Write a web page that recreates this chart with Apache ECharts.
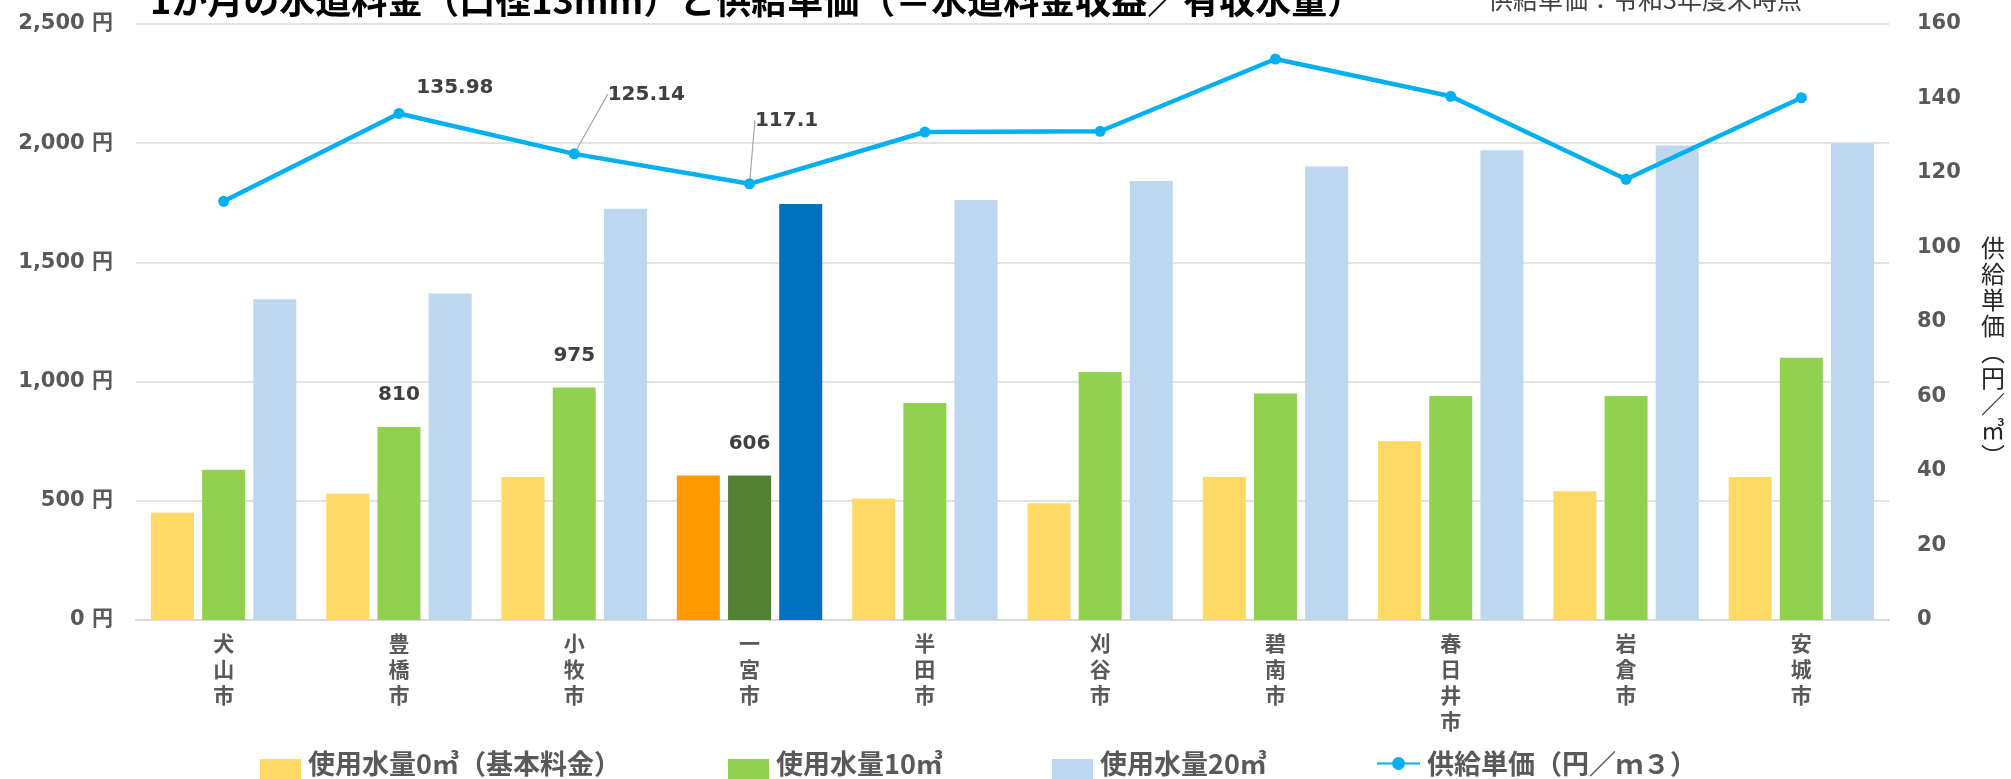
<!DOCTYPE html>
<html>
<head>
<meta charset="utf-8">
<script src="https://cdn.jsdelivr.net/npm/echarts@6/dist/echarts.min.js"></script>
<style>
html, body { margin: 0; padding: 0; background: #fff; }
#chart { width: 2011px; height: 779px; }
</style>
</head>
<body>
<div id="chart"></div>
<script>
// 市名
var cities = ['犬山市', '豊橋市', '小牧市', '一宮市', '半田市', '刈谷市', '碧南市', '春日井市', '岩倉市', '安城市'];
// 1か月の水道料金（円）
var fee0 = [450, 530, 600, 606, 510, 490, 600, 750, 540, 600];
var fee10 = [630, 810, 975, 606, 910, 1040, 950, 940, 940, 1100];
var fee20 = [1345, 1370, 1725, 1745, 1762, 1841, 1902, 1970, 1990, 2000];
// 供給単価（円／㎥）
var unitPrice = [112.4, 135.98, 125.14, 117.1, 131.0, 131.2, 150.6, 140.6, 118.3, 140.2];

var seriesNames = ['使用水量0㎥（基本料金）', '使用水量10㎥', '使用水量20㎥', '供給単価（円／ｍ３）'];
var feeLabelIdx = [1, 2, 3];
var priceLabelIdx = [1, 2, 3];
var mainCity = 3; // 一宮市

var numFont = '"DejaVu Sans", "Noto Sans CJK JP", sans-serif';
var jpFont = '"Noto Sans CJK JP", sans-serif';
var axisGray = '#595959';

function barData(values, color, labelIdx) {
    return values.map(function (v, i) {
        var item = { value: v };
        if (i === mainCity) {
            item.itemStyle = { color: color };
        }
        if (labelIdx && labelIdx.indexOf(i) >= 0) {
            item.label = { show: true };
        }
        return item;
    });
}

var priceShift = { 1: [56, -5], 2: [72, -39], 3: [37, -43] };

var chart = echarts.init(document.getElementById('chart'));

// 凡例の四角は下寄せ（下端が切れる）
var boxIcon = 'path://M0,0L41,0L41,0Z M0,15L41,15L41,40L0,40Z';

var legendBase = {
    orient: 'horizontal',
    top: 744,
    padding: 0,
    itemGap: 0,
    itemWidth: 41,
    itemHeight: 40,
    icon: boxIcon,
    textStyle: {
        fontFamily: jpFont,
        fontSize: 27,
        fontWeight: 'bold',
        color: axisGray,
        padding: [0, 0, 0, 2]
    }
};

chart.setOption({
    animation: false,
    title: [
        {
            text: '1か月の水道料金（口径13mm）と供給単価（＝水道料金収益／有収水量）',
            left: 150,
            top: -18,
            padding: 0,
            textStyle: { fontFamily: jpFont, fontSize: 36, fontWeight: 'bold', color: '#000' }
        },
        {
            text: '供給単価：令和3年度末時点',
            left: 1488,
            top: -13,
            padding: 0,
            textStyle: { fontFamily: jpFont, fontSize: 25, fontWeight: 'normal', color: '#404040' }
        }
    ],
    legend: [
        Object.assign({}, legendBase, { left: 260, data: [seriesNames[0]] }),
        Object.assign({}, legendBase, { left: 728, data: [seriesNames[1]] }),
        Object.assign({}, legendBase, { left: 1052, data: [seriesNames[2]] }),
        Object.assign({}, legendBase, { left: 1376, top: 750, icon: null, itemWidth: 43, itemHeight: 16, data: [seriesNames[3]] })
    ],
    graphic: [
        {
            type: 'text',
            left: 1981,
            top: 235,
            style: {
                text: '供\n給\n単\n価\n︵\n円\n／\n㎥\n︶',
                font: '24px "Noto Sans CJK JP", sans-serif',
                lineHeight: 26,
                fill: '#262626'
            }
        }
    ],
    grid: { left: 136, right: 122, top: 24, bottom: 159 },
    xAxis: {
        type: 'category',
        data: cities,
        axisTick: { show: false },
        axisLine: { lineStyle: { color: '#d9d9d9', width: 2 } },
        axisLabel: {
            interval: 0,
            margin: 10,
            fontFamily: jpFont,
            fontSize: 21,
            fontWeight: 'bold',
            lineHeight: 26,
            color: axisGray,
            formatter: function (v) { return v.split('').join('\n'); }
        }
    },
    yAxis: [
        {
            type: 'value',
            min: 0,
            max: 2500,
            interval: 500,
            axisLine: { show: false },
            axisTick: { show: false },
            splitLine: { lineStyle: { color: '#d9d9d9', width: 1.5 } },
            axisLabel: {
                margin: 23,
                fontFamily: numFont,
                fontSize: 21,
                fontWeight: 'bold',
                color: axisGray,
                formatter: function (v) { return v.toLocaleString('en-US') + ' 円'; }
            }
        },
        {
            type: 'value',
            min: 0,
            max: 160,
            interval: 20,
            position: 'right',
            axisLine: { show: false },
            axisTick: { show: false },
            splitLine: { show: false },
            axisLabel: {
                margin: 28,
                fontFamily: numFont,
                fontSize: 21,
                fontWeight: 'bold',
                color: axisGray
            }
        }
    ],
    series: [
        {
            name: seriesNames[0],
            type: 'bar',
            barWidth: 43,
            barGap: '19%',
            itemStyle: { color: '#FFD966' },
            data: barData(fee0, '#FF9900')
        },
        {
            name: seriesNames[1],
            type: 'bar',
            barWidth: 43,
            barGap: '19%',
            itemStyle: { color: '#92D050' },
            label: {
                show: false,
                position: 'top',
                distance: 22,
                fontFamily: numFont,
                fontSize: 20,
                fontWeight: 'bold',
                color: '#404040'
            },
            data: barData(fee10, '#548235', feeLabelIdx)
        },
        {
            name: seriesNames[2],
            type: 'bar',
            barWidth: 43,
            barGap: '19%',
            itemStyle: { color: '#BDD7EE' },
            data: barData(fee20, '#0070C0')
        },
        {
            name: seriesNames[3],
            type: 'line',
            yAxisIndex: 1,
            z: 5,
            symbol: 'circle',
            symbolSize: 11,
            lineStyle: { color: '#00B0F0', width: 4.5 },
            itemStyle: { color: '#00B0F0' },
            label: {
                show: false,
                position: 'top',
                fontFamily: numFont,
                fontSize: 20,
                fontWeight: 'bold',
                color: '#404040'
            },
            labelLine: { show: false, lineStyle: { color: '#a6a6a6', width: 1.2 } },
            labelLayout: function (p) {
                var s = priceShift[p.dataIndex];
                return s ? { dx: s[0], dy: s[1] } : {};
            },
            data: unitPrice.map(function (v, i) {
                var item = { value: v };
                if (priceLabelIdx.indexOf(i) >= 0) {
                    item.label = { show: true };
                    if (i !== 1) {
                        item.labelLine = { show: true };
                    }
                }
                return item;
            })
        }
    ]
});
</script>
</body>
</html>
